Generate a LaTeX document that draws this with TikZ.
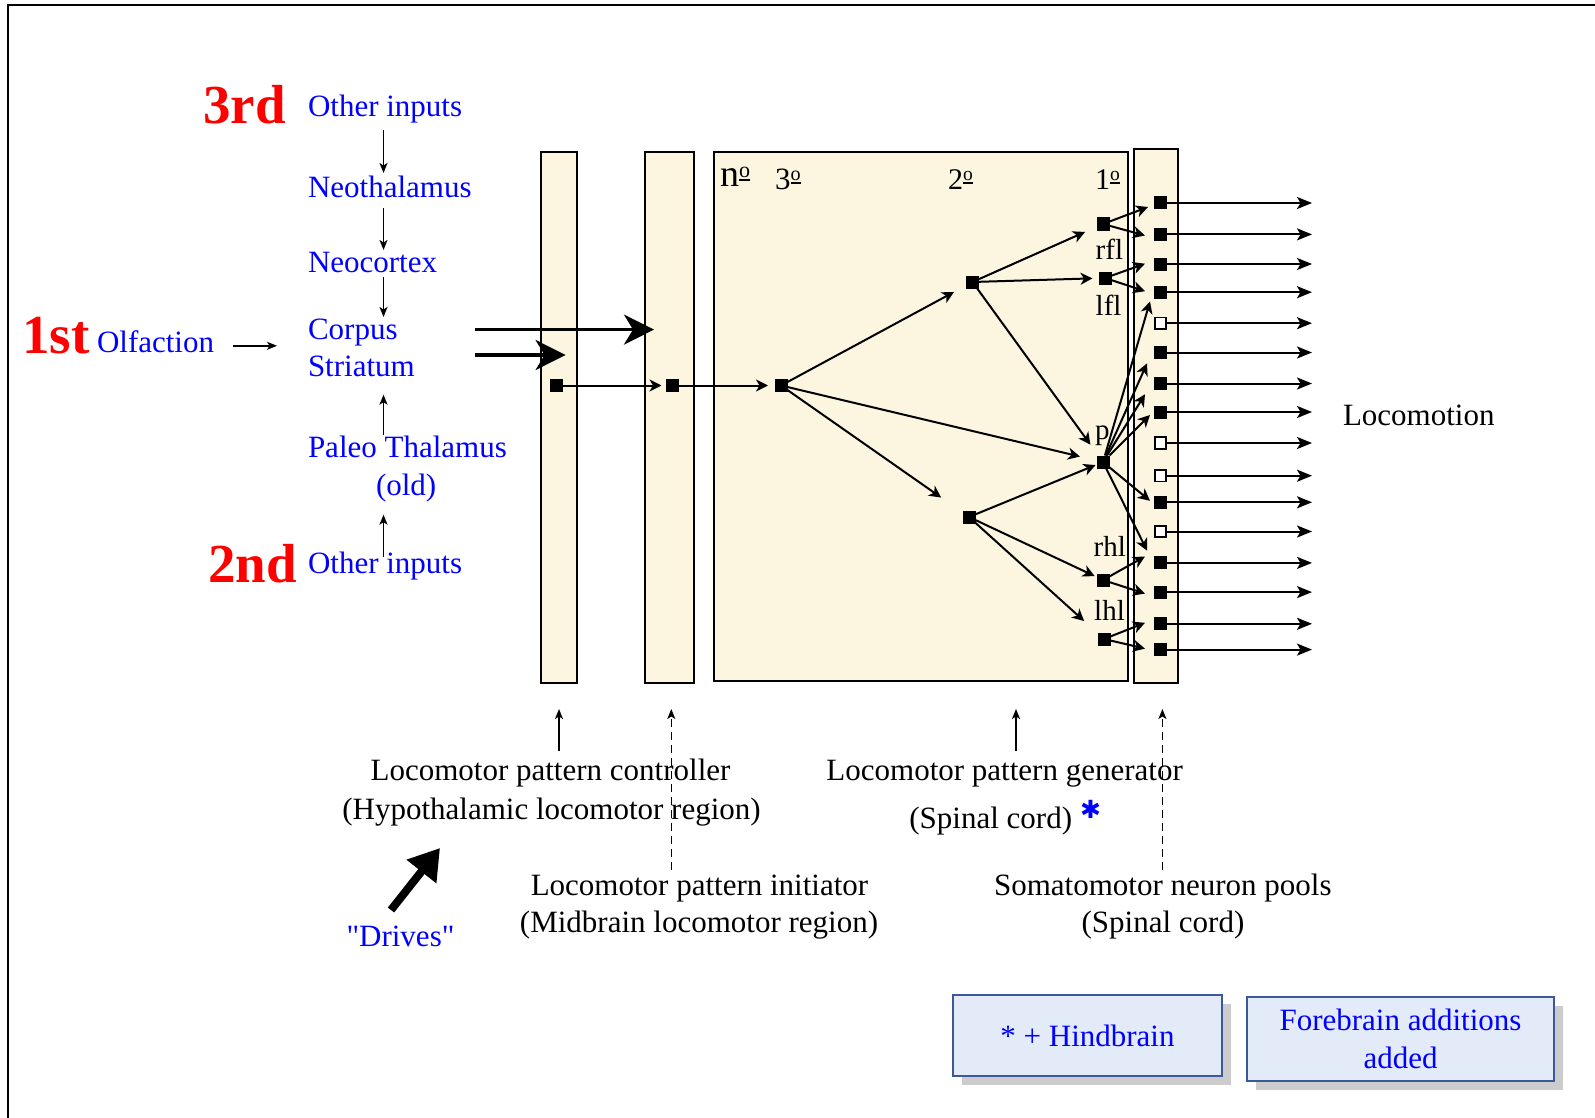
\documentclass[tikz,border=0pt]{standalone}
\usepackage{fontspec}
\setmainfont{Liberation Serif}[Ligatures=TeXOff]
\newfontfamily\djv{DejaVu Sans}
\usetikzlibrary{arrows.meta,shadows,calc}
\definecolor{cream}{RGB}{252,246,225}
\definecolor{boxfill}{RGB}{227,234,248}
\definecolor{boxline}{RGB}{59,89,152}
\definecolor{shadowgray}{RGB}{204,204,204}
\definecolor{myblue}{RGB}{0,0,255}
\definecolor{myred}{RGB}{255,0,0}
\newcommand\myord[2]{\raisebox{#1}{\vbox{\hbox{\scalebox{#2}{o}}\kern0.05em\hrule height 0.055em}}}
\begin{document}
\begin{tikzpicture}[x=1pt,y=-1pt,
  txt/.style={font=\fontsize{31}{37}\selectfont, inner sep=0pt, outer sep=0pt},
  bl/.style={txt, text=myblue, anchor=base west},
  rd/.style={inner sep=0pt, font=\fontsize{55}{60}\selectfont\bfseries, text=myred, anchor=base west},
  bk/.style={txt, anchor=base},
  stg/.style={inner sep=0pt, anchor=base west, font=\fontsize{30}{30}\selectfont},
  nl/.style={inner sep=0pt, anchor=base west, font=\fontsize{29}{29}\selectfont},
  bar/.style={draw=black, line width=2pt, fill=cream, inner sep=0pt},
  sq/.style={fill=black, minimum size=13pt, inner sep=0pt, outer sep=0pt},
  osq/.style={draw=black, fill=white, line width=1.6pt, minimum size=11.5pt, inner sep=0pt},
  larr/.style={line width=1.5pt, -{Stealth[length=10pt,width=8pt,inset=2.5pt]}},
  sarr/.style={line width=2pt, -{Stealth[length=12pt,width=12pt,inset=3.5pt]}},
  oarr/.style={line width=2pt, -{Stealth[length=15pt,width=12pt,inset=3.5pt]}},
  bigarr/.style={line width=3.5pt, -{Stealth[length=30pt,width=30pt,inset=9pt]}},
  dsharr/.style={line width=1.5pt, dash pattern=on 8pt off 5pt, -{Stealth[length=10pt,width=8pt,inset=2.5pt]}},
  infobox/.style={draw=boxline, line width=2.5pt, fill=boxfill, inner sep=0pt, text=myblue,
     drop shadow={shadow xshift=9pt, shadow yshift=-9pt, fill=shadowgray, opacity=1}},
]
\fill[white] (0,0) rectangle (1595,1118);
\useasboundingbox (0,0) rectangle (1595,1118);
\draw[line width=2pt] (8,1125) -- (8,5) -- (1600,5);

% ---------- left column ----------
\node[rd] (third) at (203,124) {3rd};
\node[rd] (first) at (22,353) {1st};
\node[rd] (second) at (208,582) {2nd};
\node[bl] (oin1) at (308,117) {Other inputs};
\node[bl] (neoth) at (308,198) {Neothalamus};
\node[bl] (neoc) at (308,272.6) {Neocortex};
\node[bl] (corp) at (308,339) {Corpus};
\node[bl] (stri) at (308,376) {Striatum};
\node[bl] (olf) at (97,352) {Olfaction};
\node[bl] (paleo) at (308,457) {Paleo Thalamus};
\node[bl] (old) at (376,495) {(old)};
\node[bl] (oin2) at (308,573) {Other inputs};

\coordinate (a1s) at (383.5,130);   \coordinate (a1e) at (383.5,173);
\coordinate (a2s) at (383.5,208.5); \coordinate (a2e) at (383.5,250);
\coordinate (a3s) at (383.5,276.7); \coordinate (a3e) at (383.5,317);
\coordinate (a4s) at (383.5,435);   \coordinate (a4e) at (383.5,394.7);
\coordinate (a5s) at (383.5,557.4); \coordinate (a5e) at (383.5,514.7);
\coordinate (a6s) at (233,345.8);   \coordinate (a6e) at (277,345.8);
\draw[larr] (a1s) -- (a1e);
\draw[larr] (a2s) -- (a2e);
\draw[larr] (a3s) -- (a3e);
\draw[larr] (a4s) -- (a4e);
\draw[larr] (a5s) -- (a5e);
\draw[larr] (a6s) -- (a6e);

% ---------- bars ----------
\node[bar, minimum width=36pt, minimum height=530pt] (hlr) at (559,417.5) {};
\node[bar, minimum width=49pt, minimum height=530pt] (mlr) at (669.5,417.5) {};
\node[bar, minimum width=414pt, minimum height=528pt] (cpg) at (921,416.5) {};
\node[bar, minimum width=44pt, minimum height=533pt] (smp) at (1156,416) {};

\coordinate (b1s) at (475,329.6); \coordinate (b1e) at (654,329.6);
\coordinate (b2s) at (475,355);   \coordinate (b2e) at (565.6,355);
\draw[bigarr] (b1s) -- (b1e);
\draw[bigarr] (b2s) -- (b2e);

\node[stg, font=\fontsize{38}{38}\selectfont] (lbn) at (720,187) {n\myord{0.15em}{0.58}};
\node[stg, font=\fontsize{31}{31}\selectfont] (lb3) at (775,190) {3\myord{0.2em}{0.65}};
\node[stg] (lb2) at (948,190) {2\myord{0.2em}{0.65}};
\node[stg] (lb1) at (1095,190) {1\myord{0.2em}{0.65}};

% ---------- network ----------
\node[sq] (s1) at (556,385.5) {};
\node[sq] (s2) at (672,385.5) {};
\node[sq] (n3) at (781,385.5) {};
\node[sq] (A) at (972.5,282) {};
\node[sq] (B) at (969,517) {};
\node[sq] (rfl) at (1103,224) {};
\node[sq] (lfl) at (1105,278) {};
\node[sq] (p) at (1103,462) {};
\node[sq] (rhl) at (1103,580) {};
\node[sq] (lhl) at (1104,639) {};
\node[nl] (trfl) at (1095.5,259.5) {rfl};
\node[nl] (tlfl) at (1095.5,315) {lfl};
\node[nl] (tp) at (1095,439) {p};
\node[nl] (trhl) at (1093.5,556) {rhl};
\node[nl] (tlhl) at (1094,620) {lhl};

\draw[sarr, shorten >=4pt] (s1) -- (s2);
\draw[sarr, shorten >=6.5pt] (s2) -- (n3);
\draw[sarr, shorten >=13.6pt] (n3) -- (A);
\draw[sarr, shorten >=17pt] (n3) -- (p);
\draw[sarr, shorten >=26pt] (n3) -- (B);
\draw[sarr, shorten >=12.5pt] (A) -- (rfl);
\draw[sarr, shorten >=6pt] (A) -- (lfl);
\draw[sarr, shorten >=13.4pt] (A) -- (p);
\draw[sarr, shorten >=1pt] (B) -- (p);
\draw[sarr, shorten >=2pt] (B) -- (rhl);
\draw[sarr, shorten >=18pt] (B) -- (lhl);

% ---------- motor pools ----------
\foreach \i/\y/\t in {1/203.0/sq,2/234.4/sq,3/264.0/sq,4/292.2/sq,5/323.2/osq,6/352.5/sq,
  7/383.5/sq,8/412.0/sq,9/443.0/osq,10/475.7/osq,11/502.3/sq,12/531.5/osq,13/562.9/sq,
  14/592.1/sq,15/623.8/sq,16/649.6/sq}
  \node[\t] (m\i) at (1160.5,\y) {};
\coordinate (outx) at (1312,0);
\foreach \i in {1,...,16} \draw[oarr] (m\i) -- (m\i -| outx);

\coordinate (t1) at (1148,207);   \coordinate (t2) at (1145,235.5);
\coordinate (t3) at (1145,263.7); \coordinate (t4) at (1145,291.2);
\coordinate (t5) at (1150,301.5); \coordinate (t6) at (1147,363.4);
\coordinate (t7) at (1145,394.3); \coordinate (t8) at (1150,415);
\coordinate (t9) at (1150,500.8); \coordinate (t10) at (1147,550.6);
\coordinate (t11) at (1145,556.5); \coordinate (t12) at (1145,593.6);
\coordinate (t13) at (1145,622.8); \coordinate (t14) at (1145,648.6);
\draw[sarr] (rfl) -- (t1);
\draw[sarr] (rfl) -- (t2);
\draw[sarr] (lfl) -- (t3);
\draw[sarr] (lfl) -- (t4);
\foreach \k in {5,...,10} \draw[sarr] (p) -- (t\k);
\draw[sarr] (rhl) -- (t11);
\draw[sarr] (rhl) -- (t12);
\draw[sarr] (lhl) -- (t13);
\draw[sarr] (lhl) -- (t14);

\node[txt, anchor=base west] (loco) at (1343,425) {Locomotion};

% ---------- bottom labels ----------
\node[bk] (lpc1) at (550.5,780) {Locomotor pattern controller};
\node[bk] (lpc2) at (551.5,819) {(Hypothalamic locomotor region)};
\node[bk] (lpi1) at (699.5,895) {Locomotor pattern initiator};
\node[bk] (lpi2) at (699,932.8) {(Midbrain locomotor region)};
\node[bk] (lpg1) at (1004.6,780) {Locomotor pattern generator};
\node[bk] (lpg2) at (990.7,828) {(Spinal cord)};
\node[text=myblue, inner sep=0pt, font=\djv\fontsize{25}{25}\selectfont] (ast) at (1090.5,809.5) {✱};
\node[bk] (smn1) at (1162.8,895) {Somatomotor neuron pools};
\node[bk] (smn2) at (1163,932.8) {(Spinal cord)};
\node[txt, text=myblue, anchor=base] (drv) at (400.5,946) {"Drives"};

\coordinate (u1s) at (559,751);    \coordinate (u1e) at (559,709);
\coordinate (u2s) at (671.3,870);  \coordinate (u2e) at (671.3,709);
\coordinate (u3s) at (1016,751);   \coordinate (u3e) at (1016,709);
\coordinate (u4s) at (1162.4,870); \coordinate (u4e) at (1162.4,709);
\draw[larr] (u1s) -- (u1e);
\draw[dsharr] (u2s) -- (u2e);
\draw[larr] (u3s) -- (u3e);
\draw[dsharr] (u4s) -- (u4e);
\coordinate (dvs) at (391,910); \coordinate (dve) at (440,848);
\draw[line width=8pt, -{Triangle[length=30pt,width=36pt]}] (dvs) -- (dve);

% ---------- legend boxes ----------
\node[infobox, minimum width=269pt, minimum height=81pt, font=\fontsize{31}{37}\selectfont] (hind) at (1087.5,1035.5) {* + Hindbrain};
\node[infobox, minimum width=307pt, minimum height=84pt, align=center, font=\fontsize{31}{37.7}\selectfont] (fore) at (1400.5,1039) {Forebrain additions\\added};
\end{tikzpicture}
\end{document}
